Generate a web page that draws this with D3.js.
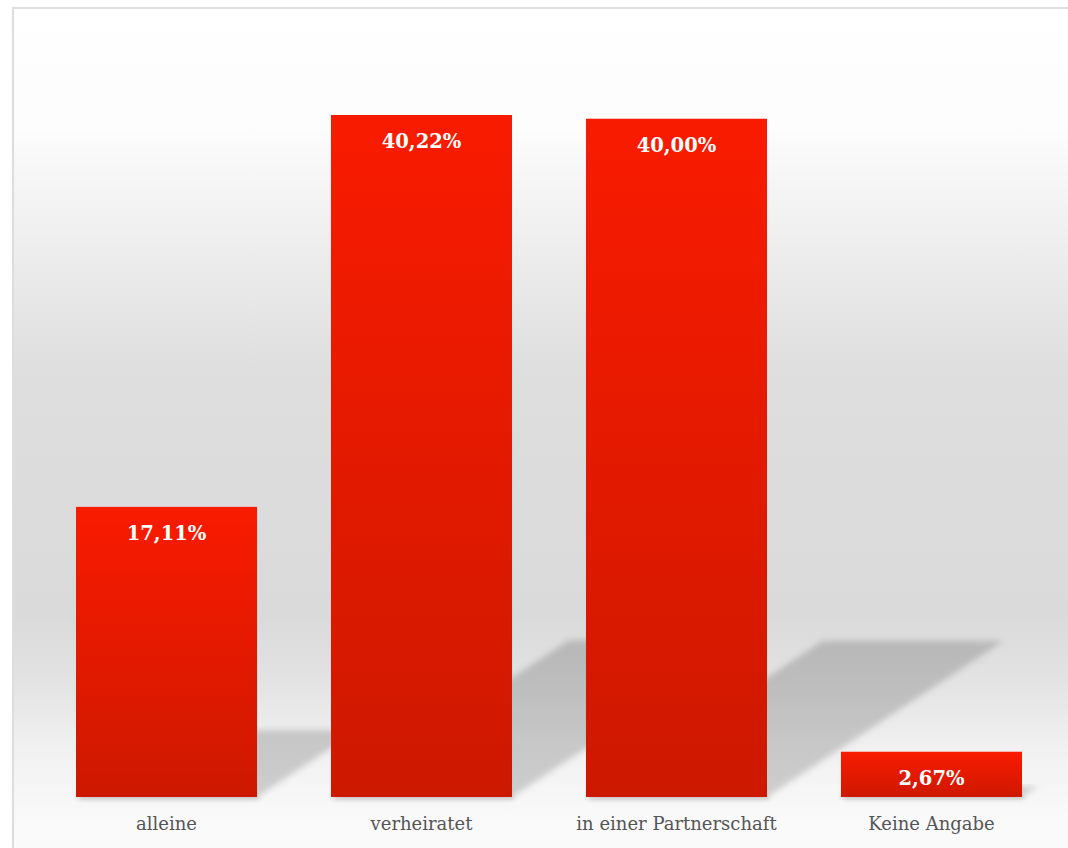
<!DOCTYPE html>
<html>
<head>
<meta charset="utf-8">
<script src="https://cdn.jsdelivr.net/npm/d3@7.9.0/dist/d3.min.js"></script>
<style>
  html, body { margin: 0; padding: 0; background: #ffffff; }
  svg { display: block; }
</style>
</head>
<body>
<div id="chart"></div>
<script>
const categories = ["alleine", "verheiratet", "in einer Partnerschaft", "Keine Angabe"];
const values = [17.11, 40.22, 40.0, 2.67];
const valueLabels = ["17,11%", "40,22%", "40,00%", "2,67%"];

const width = 1068;
const height = 848;
const font = "'DejaVu Serif', serif";

const svg = d3.select("#chart")
  .append("svg")
  .attr("width", width)
  .attr("height", height);

const defs = svg.append("defs");

// panel background: white top, grey middle, light floor
const bg = defs.append("linearGradient")
  .attr("id", "bg")
  .attr("x1", 0).attr("y1", 0).attr("x2", 0).attr("y2", 1);
[
  [0, "#ffffff"], [0.14, "#fcfcfc"], [0.3, "#ebebeb"], [0.42, "#dedede"],
  [0.7, "#dadada"], [0.77, "#e2e2e2"], [0.85, "#f0f0f0"], [0.93, "#f9f9f9"], [1, "#fcfcfc"]
].forEach(([o, c]) => bg.append("stop").attr("offset", o).attr("stop-color", c));

const barGrad = defs.append("linearGradient")
  .attr("id", "barGrad")
  .attr("x1", 0).attr("y1", 0).attr("x2", 0).attr("y2", 1);
barGrad.append("stop").attr("offset", 0).attr("stop-color", "#f91b00");
barGrad.append("stop").attr("offset", 1).attr("stop-color", "#cd1800");

defs.append("filter")
  .attr("id", "blur")
  .attr("x", "-20%").attr("y", "-20%").attr("width", "140%").attr("height", "140%")
  .append("feGaussianBlur").attr("stdDeviation", 3);

defs.append("filter")
  .attr("id", "blurSmall")
  .attr("x", "-20%").attr("y", "-50%").attr("width", "140%").attr("height", "200%")
  .append("feGaussianBlur").attr("stdDeviation", 2);

// frame
svg.append("rect")
  .attr("x", 13).attr("y", 8)
  .attr("width", width + 20).attr("height", height + 20)
  .attr("fill", "url(#bg)")
  .attr("stroke", "#dddddd")
  .attr("stroke-width", 2);

const margin = { top: 115, bottom: 51, left: 25, right: -5 };
const baseY = height - margin.bottom;

const x = d3.scaleBand()
  .domain(categories)
  .range([margin.left, width - margin.right])
  .paddingInner(0.29)
  .paddingOuter(0.2);

const y = d3.scaleLinear()
  .domain([0, d3.max(values)])
  .range([baseY, margin.top]);

const data = categories.map((c, i) => ({ cat: c, value: values[i], label: valueLabels[i] }));

// slanted floor shadows
const shadowRatio = 0.23;
const slope = 0.66;
svg.append("g")
  .selectAll("path")
  .data(data)
  .join("path")
  .attr("d", d => {
    const x0 = x(d.cat), x1 = x0 + x.bandwidth();
    const sh = (baseY - y(d.value)) * shadowRatio;
    const dx = sh / slope;
    return `M${x0},${baseY}L${x1},${baseY}L${x1 + dx},${baseY - sh}L${x0 + dx},${baseY - sh}Z`;
  })
  .attr("fill", "#000")
  .attr("fill-opacity", 0.17)
  .attr("filter", "url(#blur)");

// thin shadow under each bar
svg.append("g")
  .selectAll("rect")
  .data(data)
  .join("rect")
  .attr("x", d => x(d.cat) + 2)
  .attr("y", baseY - 2)
  .attr("width", x.bandwidth())
  .attr("height", 5)
  .attr("fill", "#000")
  .attr("fill-opacity", 0.12)
  .attr("filter", "url(#blurSmall)");

svg.append("g")
  .selectAll("rect")
  .data(data)
  .join("rect")
  .attr("x", d => x(d.cat))
  .attr("y", d => y(d.value))
  .attr("width", x.bandwidth())
  .attr("height", d => baseY - y(d.value))
  .attr("fill", "url(#barGrad)");

svg.append("g")
  .selectAll("text")
  .data(data)
  .join("text")
  .attr("x", d => x(d.cat) + x.bandwidth() / 2)
  .attr("y", d => y(d.value) + 33)
  .attr("text-anchor", "middle")
  .attr("font-family", font)
  .attr("font-weight", "bold")
  .attr("font-size", 19.5)
  .attr("fill", "#ffffff")
  .text(d => d.label);

const xAxis = svg.append("g")
  .attr("transform", `translate(0,${baseY})`)
  .call(d3.axisBottom(x).tickSize(0).tickPadding(20));
xAxis.select(".domain").remove();
xAxis.selectAll("text")
  .attr("font-family", font)
  .attr("font-size", 18)
  .attr("fill", "#555555");
</script>
</body>
</html>
